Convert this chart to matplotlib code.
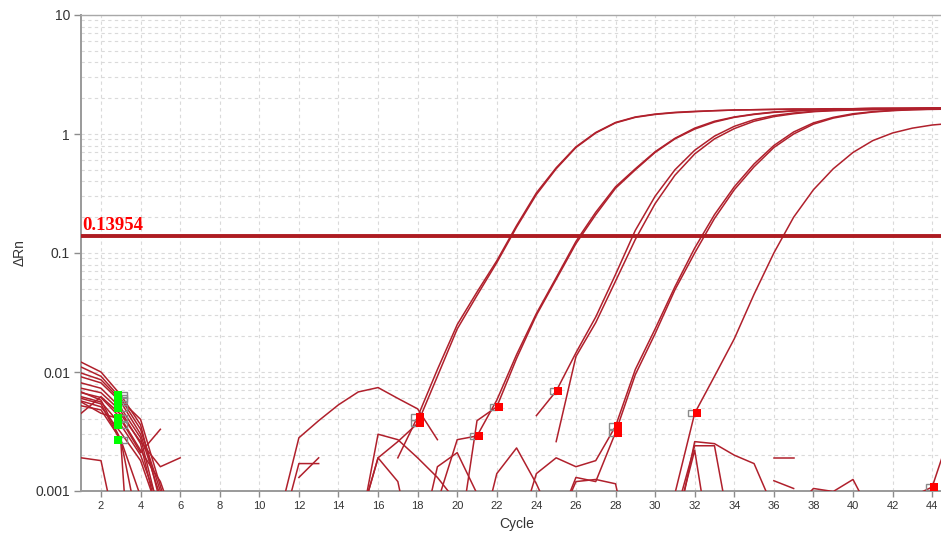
import numpy as np
import matplotlib
matplotlib.use("Agg")
import matplotlib.pyplot as plt
from matplotlib.ticker import FixedLocator, LogLocator, NullFormatter

nan = np.nan

# ---- data -------------------------------------------------------------
threshold = 0.13954
x_ticks = list(range(2, 45, 2))
y_ticks = [0.001, 0.01, 0.1, 1, 10]
y_tick_labels = ["0.001", "0.01", "0.1", "1", "10"]

# amplification wells: (first cycle, delta Rn per cycle)
well_a1 = (17, [0.0019, 0.0042, 0.0105, 0.025, 0.047, 0.086, 0.17, 0.32, 0.52, 0.78,
                1.03, 1.25, 1.39, 1.47, 1.52, 1.55, 1.57, 1.59, 1.60, 1.61, 1.62, 1.62,
                1.63, 1.63, 1.64, 1.64, 1.64, 1.65, 1.65])
well_a2 = (15, [0.0005, 0.0019, 0.0026, 0.0037, 0.0092, 0.023, 0.044, 0.083, 0.165, 0.31,
                0.51, 0.77, 1.02, 1.24, 1.38, 1.46, 1.51, 1.54, 1.57, 1.59, 1.60, 1.61,
                1.62, 1.62, 1.63, 1.63, 1.64, 1.64, 1.64, 1.65, 1.65])
well_b1 = (19, [0.0008, 0.0027, 0.0029, 0.0058, 0.0140, 0.031, 0.062, 0.125, 0.22, 0.36,
                0.51, 0.71, 0.92, 1.12, 1.28, 1.39, 1.47, 1.53, 1.57, 1.60, 1.62, 1.63,
                1.64, 1.64, 1.65, 1.65, 1.65])
well_b2 = (20, [0.0003, 0.0039, 0.0051, 0.0130, 0.030, 0.060, 0.120, 0.21, 0.35, 0.50,
                0.70, 0.91, 1.10, 1.26, 1.38, 1.46, 1.52, 1.56, 1.59, 1.61, 1.62, 1.63,
                1.64, 1.64, 1.65, 1.65])
well_c1 = (24, [0.0043, 0.0069, 0.0145, 0.029, 0.066, 0.155, 0.30, 0.50, 0.73, 0.96,
                1.16, 1.32, 1.43, 1.50, 1.55, 1.58, 1.60, 1.61, 1.62, 1.63, 1.63, 1.64])
well_c2 = (25, [0.0026, 0.0135, 0.026, 0.058, 0.130, 0.26, 0.45, 0.68, 0.91, 1.11,
                1.28, 1.40, 1.48, 1.54, 1.57, 1.59, 1.60, 1.61, 1.62, 1.63, 1.63])
well_d1 = (23, [0.0004, 0.0014, 0.0019, 0.0016, 0.0018, 0.0035, 0.0105, 0.023, 0.052, 0.11,
                0.21, 0.36, 0.56, 0.80, 1.04, 1.24, 1.38, 1.48, 1.54, 1.58, 1.60, 1.62, 1.63])
well_d2 = (25, [0.0005, 0.0013, 0.0012, 0.0031, 0.0095, 0.021, 0.049, 0.10, 0.195, 0.34,
                0.53, 0.77, 1.00, 1.21, 1.36, 1.46, 1.53, 1.57, 1.60, 1.61, 1.62])
well_e = (31, [0.00095, 0.0045, 0.0092, 0.019, 0.045, 0.100, 0.20, 0.34, 0.51, 0.70,
               0.88, 1.02, 1.12, 1.19, 1.23])

# early-cycle traces (cycle 1 onwards)
early_1 = (1, [0.0121, 0.0100, 0.0064, 0.0036, 0.0008])
early_2 = (1, [0.0098, 0.0086, 0.0058, 0.0040, 0.0011, 0.0003])
early_3 = (1, [0.0091, 0.0081, 0.0056, 0.0030, 0.0009])
early_4 = (1, [0.0081, 0.0073, 0.0050, 0.0028, 0.0006])
early_5 = (1, [0.0073, 0.0067, 0.0047, 0.0025, 0.0005])
early_6 = (1, [0.0067, 0.0061, 0.0041, 0.0022, 0.0012, 0.0004])
early_7 = (1, [0.0062, 0.0056, 0.0036, 0.0020, 0.0007])
early_8 = (1, [0.0057, 0.0051, 0.0031, 0.0018, 0.0006])
early_9 = (1, [0.0052, 0.0048, 0.0027, 0.0009])
early_10 = (1, [0.0045, 0.0062, 0.0044, 0.0026, 0.0016, 0.0019])
early_11 = (1, [0.0019, 0.0018, 0.0003])
early_12 = (1, [0.0068, 0.0058, 0.0027, 0.0004])
early_13 = (1, [0.0056, 0.0045, 0.0040, 0.0021, 0.0033])
early_14 = (1, [0.0110, 0.0092, 0.0060, 0.0033, 0.0010])
early_15 = (1, [0.0060, 0.0054, 0.0026, 0.00001])

# scattered low-level traces later in the run
noise_1 = (11, [0.0006, 0.0028, 0.0039, 0.0053, 0.0068, 0.0074, 0.0060, 0.0049, 0.0027])
noise_2 = (11, [0.0004, 0.0017, 0.0017])
noise_3 = (12, [0.0013, 0.0019])
noise_4 = (15, [0.0004, 0.0030, 0.0027, 0.0019, 0.0013, 0.0008])
noise_5 = (15, [0.0005, 0.0019, 0.0012, 0.0002])
noise_6 = (18, [0.0003, 0.0016, 0.0021, 0.00095])
noise_7 = (21, [0.0003, 0.0014, 0.0023, 0.00115, 0.0005])
noise_8 = (25, [0.0005, 0.0012, 0.00125, 0.00115, 0.0002])
noise_9 = (31, [0.0004, 0.0026, 0.0025, 0.0020, 0.0017, 0.0007])
noise_10 = (31, [0.0006, 0.0024, 0.0024, 0.0003])
noise_11 = (31, [0.0005, 0.0022, 0.0002])
noise_12 = (36, [0.0019, 0.0019])
noise_13 = (36, [0.00122, 0.00105])
noise_14 = (37, [0.0007, 0.00105, 0.00099, 0.00125, 0.0006])
noise_15 = (43, [0.0009, 0.00108, 0.0034])

amplification = [well_a1, well_a2, well_b1, well_b2, well_c1, well_c2,
                 well_d1, well_d2, well_e]
early = [early_1, early_2, early_3, early_4, early_5, early_6, early_7, early_8,
         early_9, early_10, early_11, early_12, early_13, early_14, early_15]
noise = [noise_1, noise_2, noise_3, noise_4, noise_5, noise_6, noise_7, noise_8,
         noise_9, noise_10, noise_11, noise_12, noise_13, noise_14, noise_15]

# baseline start (cycle 3) and baseline end markers
baseline_start_cycle = 3
baseline_start_traces = [early_1, early_14, early_2, early_4, early_6, early_7, early_9]
baseline_end = [(well_a1, 18), (well_a2, 18), (well_b1, 21), (well_b2, 22),
                (well_c1, 25), (well_d1, 28), (well_d2, 28), (well_e, 32),
                (noise_15, 44)]


def value_at(trace, cycle):
    start, vals = trace
    return vals[cycle - start]


# ---- figure -----------------------------------------------------------
W, H = 941, 535
fig = plt.figure(figsize=(W / 100, H / 100), dpi=100)
x0, x1 = 81.2, 81.2 + 44 * 19.79      # pixel positions of cycle 1 and 45
y_top, y_bot = 15, 491
ax = fig.add_axes([x0 / W, 1 - y_bot / H, (x1 - x0) / W, (y_bot - y_top) / H])

line_color = "#B0202C"

for start, vals in amplification + early + noise:
    cyc = np.arange(start, start + len(vals))
    ax.plot(cyc, vals, color=line_color, lw=1.1, zorder=3, solid_joinstyle="round")

ax.axhline(threshold, color="#AE1C22", lw=2.8, zorder=4)
ax.annotate(f"{threshold:.5f}", xy=(1, threshold), xytext=(0.8, 1.2),
            textcoords="offset points", ha="left", va="bottom",
            fontsize=13.5, fontweight="bold", family="Liberation Serif",
            color="#FF0000", zorder=6)

# baseline start markers
for tr in baseline_start_traces:
    v = value_at(tr, baseline_start_cycle)
    ax.plot(baseline_start_cycle + 0.16, v, "s", ms=4.6, mfc="none", mec="#8A8A8A",
            mew=1.0, zorder=5)
    ax.plot(baseline_start_cycle - 0.12, v, "s", ms=5.2, mfc="#00FF00", mec="#00FF00",
            mew=0, zorder=6)

# baseline end markers
for tr, c in baseline_end:
    v = value_at(tr, c)
    ax.plot(c - 0.18, v, "s", ms=4.6, mfc="none", mec="#8A8A8A", mew=1.0, zorder=5)
    ax.plot(c + 0.1, v, "s", ms=5.2, mfc="#FF0000", mec="#FF0000", mew=0, zorder=6)

ax.set_yscale("log", nonpositive="mask")
ax.set_xlim(1, 45)
ax.set_ylim(0.001, 10)

ax.xaxis.set_major_locator(FixedLocator(x_ticks))
ax.set_xticklabels([str(t) for t in x_ticks])
ax.yaxis.set_major_locator(FixedLocator(y_ticks))
ax.set_yticklabels(y_tick_labels)
ax.yaxis.set_minor_locator(LogLocator(base=10, subs=np.arange(2, 10)))
ax.yaxis.set_minor_formatter(NullFormatter())

grid_kw = dict(color="#DADADA", lw=0.8, linestyle=(0, (3, 3)))
ax.grid(True, which="major", axis="both", **grid_kw)
ax.grid(True, which="minor", axis="y", **grid_kw)
ax.set_axisbelow(True)

ax.tick_params(axis="y", which="major", length=5, width=1, color="#8C8C8C",
               labelsize=10, labelcolor="#333333", pad=3)
ax.tick_params(axis="y", which="minor", length=0)
ax.tick_params(axis="x", which="major", length=4, width=1, color="#8C8C8C",
               labelsize=8, labelcolor="#333333", pad=3)

for side in ("left", "bottom"):
    ax.spines[side].set_color("#9A9A9A")
    ax.spines[side].set_linewidth(1.4)
ax.spines["top"].set_color("#A8A8A8")
ax.spines["top"].set_linewidth(1.0)
ax.spines["right"].set_visible(False)

fig.text(20 / W, 1 - 253 / H, "ΔRn", rotation=90, ha="center", va="center",
         fontsize=10, color="#333333", family="Liberation Sans")
fig.text(517 / W, 1 - 524 / H, "Cycle", ha="center", va="center",
         fontsize=10, color="#333333", family="Liberation Sans")

for lab in ax.get_xticklabels() + ax.get_yticklabels():
    lab.set_family("Liberation Sans")

fig.savefig("out.png", dpi=100)
